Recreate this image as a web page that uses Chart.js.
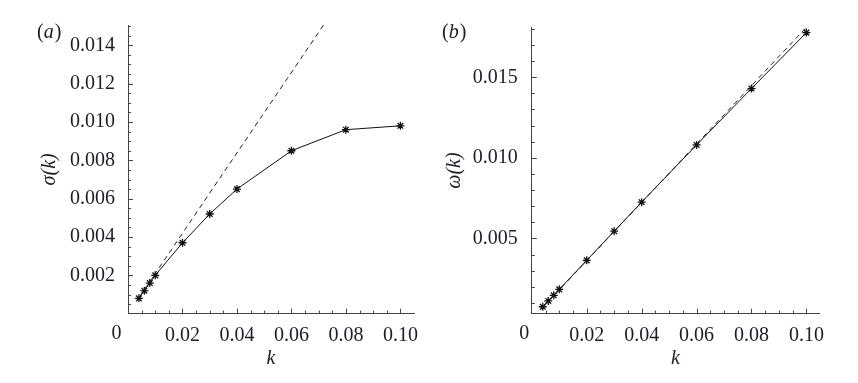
<!DOCTYPE html>
<html>
<head>
<meta charset="utf-8">
<script src="https://cdn.jsdelivr.net/npm/chart.js@4.4.1/dist/chart.umd.min.js"></script>
<style>
  body { margin: 0; background: #fff; width: 858px; height: 383px; overflow: hidden; position: relative; }
  .panel { position: absolute; top: 0; width: 429px; height: 383px; }
</style>
</head>
<body>
<div class="panel" style="left:0"><canvas id="chartA" width="429" height="383"></canvas></div>
<div class="panel" style="left:429px"><canvas id="chartB" width="429" height="383"></canvas></div>
<script>
// wavenumbers used in both panels
const kValues = [0.004, 0.006, 0.008, 0.010, 0.02, 0.03, 0.04, 0.06, 0.08, 0.10];

// (a) growth rate
const sigmaValues = [0.0008, 0.0012, 0.0016, 0.002, 0.0037, 0.0052, 0.0065, 0.0085, 0.0096, 0.0098];
const sigmaDashK = [0.004, 0.0718];
const sigmaDash = [0.00084, 0.01506];

// (b) frequency
const omegaValues = [0.00076, 0.00112, 0.00147, 0.00184, 0.00364, 0.00545, 0.00725, 0.0108, 0.0143, 0.01777];
const omegaDashK = [0.004, 0.1];
const omegaDash = [0.00072, 0.0181];

// tick labels
const kTicks = [0.02, 0.04, 0.06, 0.08, 0.10];
const sigmaTicks = [0.002, 0.004, 0.006, 0.008, 0.010, 0.012, 0.014];
const omegaTicks = [0.005, 0.010, 0.015];

const textColor = "#1c1c2a";
const axisColor = "#444";
const serif = "'Liberation Serif', 'Times New Roman', Tinos, serif";
const fontSize = 20;
const xLabelPad = 10.5;

function points(xs, ys) {
  return xs.map((x, i) => ({ x: x, y: ys[i] }));
}

function range(from, to, step) {
  let out = [];
  for (let i = 0; from + i * step <= to + 1e-9; i++) out.push(from + i * step);
  return out;
}

// inward tick marks, the corner "0" and the panel letter
const decorations = {
  id: "decorations",
  afterDraw(chart, args, opts) {
    const ctx = chart.ctx;
    const xs = chart.scales.x;
    const ys = chart.scales.y;
    const area = chart.chartArea;
    ctx.save();
    ctx.strokeStyle = axisColor;
    ctx.lineWidth = 1;
    ctx.beginPath();
    opts.xMinor.forEach((v) => {
      let p = Math.round(xs.getPixelForValue(v)) + 0.5;
      ctx.moveTo(p, area.bottom);
      ctx.lineTo(p, area.bottom - 3);
    });
    opts.xMajor.forEach((v) => {
      let p = Math.round(xs.getPixelForValue(v)) + 0.5;
      ctx.moveTo(p, area.bottom);
      ctx.lineTo(p, area.bottom - 5);
    });
    opts.yMinor.forEach((v) => {
      let p = Math.round(ys.getPixelForValue(v)) + 0.5;
      ctx.moveTo(area.left, p);
      ctx.lineTo(area.left + 3, p);
    });
    opts.yMajor.forEach((v) => {
      let p = Math.round(ys.getPixelForValue(v)) + 0.5;
      ctx.moveTo(area.left, p);
      ctx.lineTo(area.left + 5, p);
    });
    ctx.stroke();

    ctx.fillStyle = textColor;
    ctx.font = fontSize + "px " + serif;
    ctx.textAlign = "center";
    ctx.textBaseline = "top";
    ctx.fillText("0", xs.getPixelForValue(0) + opts.zeroShift, xs.top + xLabelPad);

    // panel letter: upright brackets, italic letter
    ctx.textAlign = "left";
    ctx.textBaseline = "alphabetic";
    let x = opts.labelX;
    ctx.font = fontSize + "px " + serif;
    ctx.fillText("(", x, opts.labelY);
    x += ctx.measureText("(").width;
    ctx.font = "italic " + fontSize + "px " + serif;
    ctx.fillText(opts.letter, x, opts.labelY);
    x += ctx.measureText(opts.letter).width + 1;
    ctx.font = fontSize + "px " + serif;
    ctx.fillText(")", x, opts.labelY);
    ctx.restore();
  },
};

function makeChart(id, cfg) {
  return new Chart(document.getElementById(id), {
    type: "scatter",
    data: {
      datasets: [
        {
          data: points(cfg.dashK, cfg.dash),
          showLine: true,
          borderColor: "#222",
          borderWidth: 1,
          borderDash: [5, 4],
          pointRadius: 0,
        },
        {
          data: points(kValues, cfg.values),
          showLine: true,
          borderColor: "#111",
          borderWidth: 1,
          pointStyle: "star",
          pointRadius: 4,
          pointBorderWidth: 1.3,
          pointBorderColor: "#111",
        },
      ],
    },
    options: {
      responsive: false,
      animation: false,
      layout: { padding: { left: 0, top: cfg.top, right: cfg.right, bottom: 0 } },
      plugins: {
        legend: { display: false },
        tooltip: { enabled: false },
        decorations: {
          letter: cfg.letter,
          labelX: cfg.labelX,
          labelY: 38,
          zeroShift: cfg.zeroShift,
          xMajor: kTicks,
          xMinor: range(0.005, 0.1, 0.005),
          yMajor: cfg.yTicks,
          yMinor: cfg.yMinor,
        },
      },
      scales: {
        x: {
          type: "linear",
          min: 0,
          max: cfg.xMax,
          grid: { display: false, drawTicks: false },
          border: { display: true, color: axisColor, width: 1 },
          afterBuildTicks: (scale) => {
            scale.ticks = kTicks.map((v) => ({ value: v }));
          },
          afterFit: (scale) => {
            scale.height = 69.3;
          },
          ticks: {
            padding: xLabelPad,
            color: textColor,
            font: { family: serif, size: fontSize },
            maxRotation: 0,
            autoSkip: false,
            callback: (v) => v.toFixed(2),
          },
          title: {
            display: true,
            text: "k",
            color: textColor,
            font: { family: serif, size: fontSize, style: "italic" },
            padding: { top: 0, bottom: 12 },
          },
        },
        y: {
          type: "linear",
          min: cfg.yMin,
          max: cfg.yMax,
          grid: { display: false, drawTicks: false },
          border: { display: true, color: axisColor, width: 1 },
          afterBuildTicks: (scale) => {
            scale.ticks = cfg.yTicks.map((v) => ({ value: v }));
          },
          afterFit: (scale) => {
            scale.width = cfg.yWidth;
          },
          ticks: {
            padding: cfg.yPad,
            color: textColor,
            font: { family: serif, size: fontSize },
            autoSkip: false,
            callback: (v) => v.toFixed(3),
          },
          title: {
            display: true,
            text: cfg.yTitle,
            color: textColor,
            font: { family: serif, size: fontSize, style: "italic" },
            padding: { top: cfg.titlePad, bottom: 0 },
          },
        },
      },
    },
    plugins: [decorations],
  });
}

makeChart("chartA", {
  letter: "a",
  labelX: 37,
  zeroShift: -11.5,
  values: sigmaValues,
  dashK: sigmaDashK,
  dash: sigmaDash,
  yTicks: sigmaTicks,
  yMinor: range(0.0005, 0.015, 0.0005),
  yMin: 0,
  yMax: 0.01506,
  xMax: 0.105,
  top: 25,
  right: 13,
  yWidth: 128,
  yPad: 13,
  yTitle: "σ(k)",
  titlePad: 38,
});

makeChart("chartB", {
  letter: "b",
  labelX: 13,
  zeroShift: -7.5,
  values: omegaValues,
  dashK: omegaDashK,
  dash: omegaDash,
  yTicks: omegaTicks,
  yMinor: range(0.001, 0.018, 0.001),
  yMin: 0.00033,
  yMax: 0.0181,
  xMax: 0.1047,
  top: 27.3,
  right: 38.7,
  yWidth: 102.8,
  yPad: 14,
  yTitle: "ω(k)",
  titlePad: 14,
});
</script>
</body>
</html>
